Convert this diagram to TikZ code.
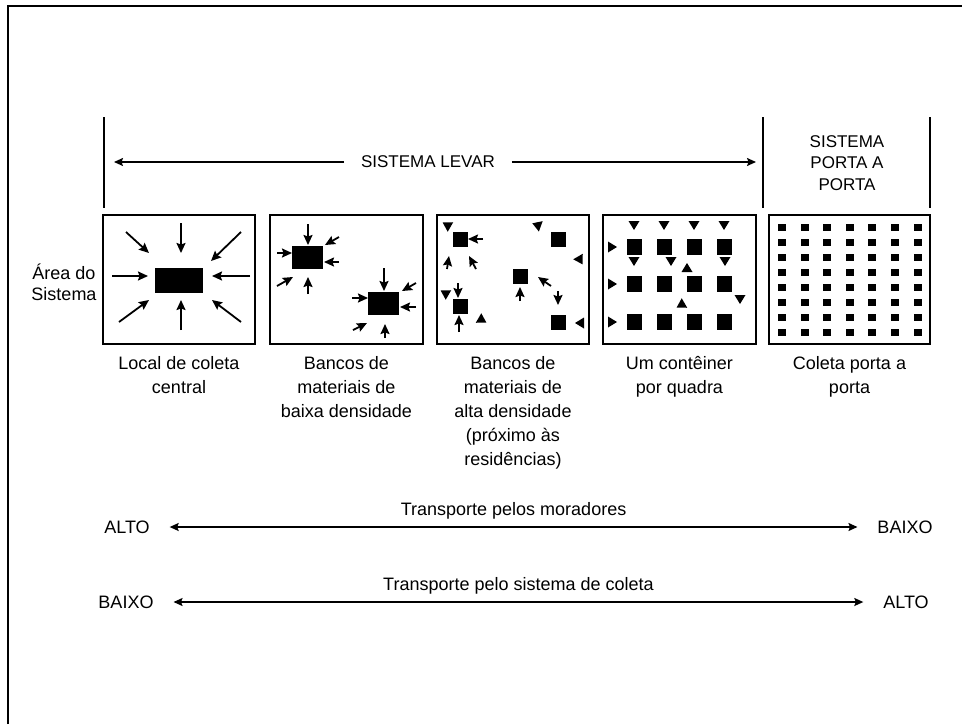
\documentclass[tikz,border=0pt]{standalone}
\usepackage{fontspec}
\setmainfont{Liberation Sans}
\usetikzlibrary{positioning, arrows.meta}

\begin{document}
\begin{tikzpicture}[x=1pt,y=-1pt]
		\tikzstyle{box} = [draw, line width=1.8pt, minimum height=129, inner sep=0]
		\tikzstyle{rotulo} = [inner sep=0, align=center, font=\fontsize{18}{24}\selectfont]
		\tikzstyle{titulo} = [inner sep=0, align=center, font=\fontsize{17}{21.5}\selectfont]
		\tikzstyle{grau} = [inner sep=0, outer sep=20, font=\fontsize{18}{21}\selectfont]
		\tikzstyle{seta} = [-{Stealth[length=10pt,width=9pt,inset=1.5pt]}, line width=1.8pt]
		\tikzstyle{fina} = [-{Stealth[length=9pt,width=8pt,inset=1.5pt]}, line width=1.5pt]
		\tikzstyle{dupla} = [{Stealth[length=9pt,width=8pt,inset=1.5pt]}-{Stealth[length=9pt,width=8pt,inset=1.5pt]}, line width=1.5pt]
		\useasboundingbox (0,0) rectangle (962,724);
		\draw [line width=1.8pt] (8,724) -- (8,6) -- (962,6);

		\draw [line width=1.6pt] (104,117) -- (104,208);
		\draw [line width=1.6pt] (763,117) -- (763,208);
		\draw [line width=1.6pt] (930,117) -- (930,208);
		\node [titulo, outer sep=17] (levar) at (428,162) {SISTEMA LEVAR};
		\coordinate (levarE) at (114,162);
		\coordinate (levarD) at (756,162);
		\draw [fina] (levar) -- (levarE);
		\draw [fina] (levar) -- (levarD);
		\node [titulo] (porta) at (847,163) {SISTEMA\\PORTA A\\PORTA};

		\node [box, minimum width=152] (b1) at (179,279.5) {};
		\node [box, minimum width=153] (b2) at (346.5,279.5) {};
		\node [box, minimum width=152] (b3) at (513,279.5) {};
		\node [box, minimum width=153] (b4) at (679.5,279.5) {};
		\node [box, minimum width=161] (b5) at (849.5,279.5) {};
		\node [rotulo, font=\fontsize{18}{21}\selectfont] (area) at (64,282) {Área do\\Sistema};

		\node [rotulo, anchor=north] (t1) at ([yshift=-11pt]b1.south) {Local de coleta\\central};
		\node [rotulo, anchor=north] (t2) at ([yshift=-11pt]b2.south) {Bancos de\\materiais de\\baixa densidade};
		\node [rotulo, anchor=north] (t3) at ([yshift=-11pt]b3.south) {Bancos de\\materiais de\\alta densidade\\(próximo às\\residências)};
		\node [rotulo, anchor=north] (t4) at ([yshift=-11pt]b4.south) {Um contêiner\\por quadra};
		\node [rotulo, anchor=north] (t5) at ([yshift=-11pt]b5.south) {Coleta porta a\\porta};

		% local central
		\fill (155,268) rectangle (203,293);
		\foreach \xa/\ya/\xb/\yb in {181/223/181/253, 181/330/181/300, 112/276/148/276, 250/276/212/276,
			126/232/149/253, 241/232/211/261, 119/322/149/300, 241/322/212/300}
			\draw [seta] (\xa,\ya) -- (\xb,\yb);

		% baixa densidade
		\fill (292,246) rectangle (323,269);
		\fill (368,292) rectangle (399,315);
		\foreach \xa/\ya/\xb/\yb in {308/224/308/245, 277/253/292/253, 339/262/324/262, 339/237/325/245,
			277/286/293/277, 308/294/308/277, 384/268/384/291, 352/298/368/298,
			416/307/400/307, 416/283/402/291, 353/330/367/323, 385/338/385/324}
			\draw [seta] (\xa,\ya) -- (\xb,\yb);

		% alta densidade
		\foreach \x/\y in {460/239, 558/239, 520/276, 460/306, 558/322}
			\fill (\x-7.5,\y-7.5) rectangle (\x+7.5,\y+7.5);
		\foreach \xa/\ya/\xb/\yb in {483/239/468/239, 447/269/449/256, 476/269/469/256, 551/286/538/277,
			520/301/520/287, 558/291/558/305, 458/283/458/298, 459/332/459/315}
			\draw [seta] (\xa,\ya) -- (\xb,\yb);
		\foreach \x/\y/\a in {447/225/150, 537/225/160, 580/260/-60, 445/293/150, 482/320/-30, 580/323/180}
			\fill [shift={(\x,\y)}, rotate=\a] (5,0) -- (-4,5.5) -- (-4,-5.5) -- cycle;

		% um conteiner por quadra
		\foreach \x in {634,664,694,724}
			\foreach \y in {247,284,322}
				\fill (\x-7.5,\y-8) rectangle (\x+7.5,\y+8);
		\foreach \x/\y/\a in {634/225/-90, 664/225/-90, 694/225/-90, 724/225/-90, 612/247/0, 612/284/0,
			612/322/0, 634/261/-90, 671/261/-90, 725/261/-90, 687/268/90, 740/299/-90, 681/305/-150}
			\fill [shift={(\x,\y)}, rotate=\a] (5,0) -- (-4,5.5) -- (-4,-5.5) -- cycle;

		% porta a porta
		\foreach \i in {0,...,6}
			\foreach \j in {0,...,7}
				\fill ({782+22.6*\i-4},{227+15*\j-3.5}) rectangle ++(8,7.5);

		\node [grau] (alto1) at (127,527) {ALTO};
		\node [grau] (baixo1) at (905,527) {BAIXO};
		\draw [dupla] (alto1) -- node [rotulo, above=7pt] {Transporte pelos moradores} (baixo1);
		\node [grau] (baixo2) at (126,602) {BAIXO};
		\node [grau] (alto2) at (906,602) {ALTO};
		\draw [dupla] (baixo2) -- node [rotulo, above=7pt] {Transporte pelo sistema de coleta} (alto2);
\end{tikzpicture}
\end{document}
